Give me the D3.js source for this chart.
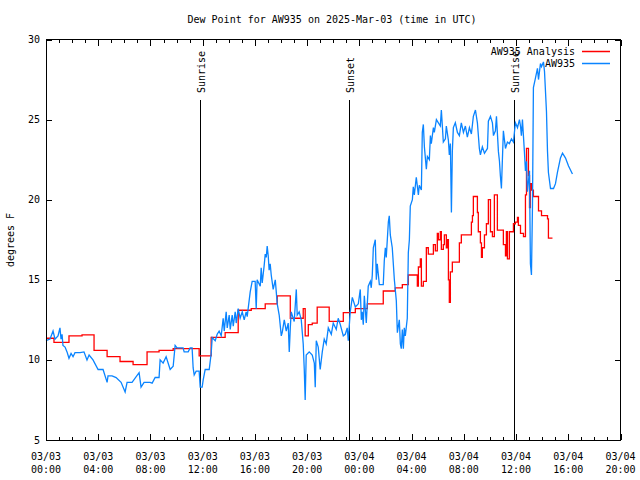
<!DOCTYPE html>
<html><head><meta charset="utf-8">
<script src="https://cdn.jsdelivr.net/npm/d3@7/dist/d3.min.js"></script>
<style>
body{margin:0;background:#fff;}
svg{display:block;}
text{font-family:"DejaVu Sans Mono","Liberation Mono",monospace;font-size:10px;fill:#000;}
</style></head>
<body>
<svg id="chart" width="640" height="480"></svg>
<script>
// ---- DATA (hours since 03/03 00:00 UTC, dew point in °F) ----
const titleText = "Dew Point for AW935 on 2025-Mar-03 (time in UTC)";
const yLabel = "degrees F";
const yTicks = [5, 10, 15, 20, 25, 30];
const xTickHours = [0, 4, 8, 12, 16, 20, 24, 28, 32, 36, 40, 44];
const xTickDates = ["03/03","03/03","03/03","03/03","03/03","03/03","03/04","03/04","03/04","03/04","03/04","03/04"];
const xTickTimes = ["00:00","04:00","08:00","12:00","16:00","20:00","00:00","04:00","08:00","12:00","16:00","20:00"];
const events = [["Sunrise", 11.80], ["Sunset", 23.17], ["Sunrise", 35.88]];

// AW935 observations [hour, value]
const obsSeries = [
[0,11.2],[0.31,11.3],[0.54,11.8],[0.69,11.3],[0.92,11.5],[1.07,12.0],[1.15,11.3],[1.23,11.6],[1.30,10.9],
[1.46,10.8],[1.61,10.5],[1.76,10.1],[1.92,10.4],[2.07,10.2],[2.22,10.45],[2.61,10.45],[2.91,10.5],[3.14,10.0],
[3.30,10.3],[3.60,10.0],[3.99,9.4],[4.37,9.4],[4.68,8.6],[4.75,9.0],[5.06,9.0],[5.37,8.9],[5.75,8.6],[6.06,8.0],
[6.21,8.6],[6.59,8.6],[7.13,9.2],[7.28,8.3],[7.51,8.6],[7.97,8.6],[8.13,8.55],[8.36,8.9],[8.66,8.9],[8.74,10.0],
[8.97,9.8],[9.20,10.2],[9.51,9.4],[9.74,9.6],[9.89,10.9],[10.04,10.75],[10.50,10.75],[10.58,10.5],[10.89,10.5],
[11.04,10.75],[11.19,10.75],[11.27,9.5],[11.35,9.06],[11.50,9.3],[11.73,9.3],[11.81,8.3],[11.96,8.3],[12.04,8.75],
[12.19,9.4],[12.50,9.4],[12.65,10.4],[12.73,11.4],[12.96,11.2],[13.11,11.6],[13.26,11.8],[13.42,11.5],[13.57,12.6],
[13.65,11.8],[13.80,13.0],[13.88,12.0],[14.03,12.8],[14.11,11.9],[14.26,12.8],[14.34,12.1],[14.49,13.0],[14.57,12.3],
[14.72,13.2],[14.87,12.6],[15.03,13.0],[15.18,12.5],[15.33,13.0],[15.41,12.7],[15.64,14.25],[15.79,14.9],[16.02,14.9],
[16.10,13.2],[16.17,15.0],[16.41,14.6],[16.48,15.75],[16.56,14.8],[16.71,15.9],[16.79,16.6],[16.87,16.4],[16.94,17.1],
[17.02,16.5],[17.09,15.6],[17.17,16.0],[17.25,15.3],[17.40,14.4],[17.56,15.0],[17.71,13.5],[17.86,12.8],[18.02,11.5],
[18.09,11.7],[18.25,12.5],[18.40,11.8],[18.55,12.3],[18.63,10.5],[18.71,12.0],[18.78,13.0],[19.01,12.4],[19.17,14.4],
[19.24,12.8],[19.39,13.0],[19.55,12.5],[19.70,11.0],[19.78,9.4],[19.85,7.5],[19.93,10.3],[20.16,10.5],[20.39,10.3],
[20.55,9.8],[20.62,8.3],[20.70,11.2],[20.85,10.8],[21.00,9.4],[21.16,10.5],[21.31,11.3],[21.46,11.0],[21.62,12.0],
[21.85,11.6],[22.00,12.3],[22.23,11.9],[22.38,12.6],[22.54,12.2],[22.77,11.5],[22.92,11.6],[23.07,12.0],[23.15,11.2],
[23.30,13.0],[23.46,13.9],[23.69,13.3],[23.92,13.5],[24.07,14.4],[24.15,12.5],[24.22,13.0],[24.30,12.2],[24.38,14.0],
[24.53,12.3],[24.68,14.6],[24.84,14.9],[24.91,14.5],[24.99,15.3],[25.07,17.0],[25.22,17.5],[25.30,15.0],[25.37,16.0],
[25.53,14.7],[25.83,14.7],[25.91,16.2],[25.99,17.0],[26.06,16.4],[26.22,18.6],[26.29,19.0],[26.37,17.8],[26.52,17.0],
[26.68,15.0],[26.83,13.7],[26.91,11.7],[27.06,12.5],[27.14,11.0],[27.21,10.7],[27.29,11.9],[27.37,10.7],[27.44,12.0],
[27.52,11.5],[27.67,12.6],[27.75,16.7],[27.83,17.5],[27.90,19.6],[28.06,20.0],[28.13,20.8],[28.21,20.3],[28.36,21.4],
[28.52,20.3],[28.59,20.9],[28.75,20.6],[28.82,24.2],[28.90,24.7],[28.98,23.3],[29.13,21.9],[29.21,22.7],[29.36,22.5],
[29.44,24.0],[29.51,23.5],[29.67,24.5],[29.74,24.2],[29.90,25.0],[30.20,24.6],[30.28,25.6],[30.43,23.6],[30.59,23.8],
[30.66,24.6],[30.82,23.7],[30.89,22.8],[30.97,23.5],[31.05,19.2],[31.12,23.0],[31.20,24.5],[31.35,24.8],[31.51,24.2],
[31.66,24.0],[31.81,24.8],[31.97,24.2],[32.12,24.6],[32.27,23.9],[32.43,24.5],[32.58,24.1],[32.73,25.2],[32.89,25.6],
[33.04,24.8],[33.19,23.2],[33.27,22.8],[33.42,23.3],[33.58,22.9],[33.81,23.2],[33.88,24.9],[34.04,25.2],[34.19,24.8],
[34.27,24.0],[34.42,24.3],[34.50,25.2],[34.65,23.0],[34.73,22.4],[34.80,21.5],[34.88,20.7],[35.03,24.3],[35.19,23.2],
[35.34,23.6],[35.49,23.5],[35.65,23.8],[35.80,23.6],[35.95,24.8],[36.11,24.5],[36.26,25.0],[36.34,24.6],[36.41,24.0],
[36.49,25.0],[36.64,23.0],[36.72,21.8],[36.80,22.4],[36.87,20.5],[37.03,21.8],[37.10,16.0],[37.18,15.3],[37.26,19.7],
[37.33,27.0],[37.49,27.6],[37.64,28.2],[37.72,27.5],[37.87,28.5],[37.95,28.3],[38.10,28.6],[38.18,28.0],[38.33,25.5],
[38.41,23.0],[38.48,21.7],[38.64,20.7],[38.87,20.7],[39.02,21.0],[39.17,21.7],[39.40,22.6],[39.56,22.9],[39.79,22.6],
[40.02,22.1],[40.32,21.6]
];

// AW935 Analysis [hour, value] (stepped)
const analysisSeries = [
[0,11.35],[0.61,11.1],[1.76,11.5],[2.76,11.56],[3.68,10.6],[4.68,10.2],[5.67,9.9],[6.67,9.7],[7.74,10.5],[8.66,10.6],
[9.74,10.7],[11.73,10.25],[12.65,11.4],[13.72,11.7],[14.72,13.1],[15.72,13.2],[16.79,13.5],[17.71,14.0],[18.71,12.6],
[19.70,13.2],[19.85,11.5],[20.09,12.2],[20.39,12.3],[20.77,13.3],[21.69,12.4],[22.77,12.95],[23.69,13.2],[24.61,13.5],
[25.83,14.3],[26.75,14.5],[27.29,14.7],[27.75,15.3],[28.44,14.6],[28.52,15.8],[28.67,16.3],[28.75,14.6],[28.90,14.9],
[29.13,17.0],[29.28,16.6],[29.67,17.2],[29.82,16.8],[29.97,17.9],[30.05,17.5],[30.20,18.0],[30.28,16.9],[30.43,17.2],
[30.51,17.8],[30.66,17.0],[30.74,17.5],[30.82,15.0],[30.89,13.6],[30.97,15.5],[31.12,16.1],[31.66,17.3],[31.81,17.8],
[32.58,18.6],[32.66,19.0],[32.73,20.2],[33.04,19.2],[33.11,18.0],[33.27,17.3],[33.35,16.4],[33.42,17.0],[33.58,17.8],
[33.73,18.5],[33.88,20.0],[34.04,18.0],[34.19,17.7],[34.34,20.3],[34.57,18.1],[35.03,17.2],[35.19,16.5],[35.26,18.0],
[35.34,16.3],[35.49,18.0],[35.80,18.5],[35.95,18.6],[36.11,18.9],[36.18,18.4],[36.34,17.9],[36.57,17.7],[36.72,20.3],
[36.80,23.2],[36.95,21.5],[37.03,19.5],[37.10,21.0],[37.18,20.6],[37.33,20.2],[37.72,19.3],[37.95,19.0],[38.41,18.8],
[38.48,17.6],[38.79,17.6]
];

const seriesNames = ["AW935 Analysis", "AW935"];
const seriesColors = ["#ff0000", "#0a84ff"];

// ---- DRAWING ----
const svg = d3.select("#chart");
const x = d3.scaleLinear().domain([0, 44]).range([46, 620.5]);
const y = d3.scaleLinear().domain([5, 30]).range([440, 39.5]);

svg.append("text").attr("x", 332).attr("y", 23).attr("text-anchor", "middle").text(titleText);

// axes ticks (inward)
const minorHours = d3.range(0, 45).filter(h => h % 4 !== 0);
const gB = svg.append("g").attr("transform", `translate(0,440)`);
gB.call(d3.axisBottom(x).tickValues(xTickHours).tickSize(-6).tickFormat(""));
gB.call(g => g.append("g").call(d3.axisBottom(x).tickValues(minorHours).tickSize(-3).tickFormat("")));
const gT = svg.append("g").attr("transform", `translate(0,39.5)`);
gT.call(d3.axisTop(x).tickValues(xTickHours).tickSize(-6).tickFormat(""));
gT.call(g => g.append("g").call(d3.axisTop(x).tickValues(minorHours).tickSize(-3).tickFormat("")));
const gL = svg.append("g").attr("transform", `translate(46,0)`);
gL.call(d3.axisLeft(y).tickValues(yTicks).tickSize(-6).tickFormat(""));
const gR = svg.append("g").attr("transform", `translate(620.5,0)`);
gR.call(d3.axisRight(y).tickValues(yTicks).tickSize(-6).tickFormat(""));
svg.selectAll(".domain").remove();
svg.selectAll(".tick line").attr("stroke", "#000").attr("shape-rendering", "crispEdges");

// tick labels
svg.append("g").selectAll("text").data(yTicks).join("text")
  .attr("x", 40).attr("y", d => y(d) + 3.5).attr("text-anchor", "end").text(d => d);
const xl = svg.append("g").selectAll("text").data(xTickHours).join("text")
  .attr("text-anchor", "middle");
xl.append("tspan").attr("x", d => x(d)).attr("y", 460).text((d, i) => xTickDates[i]);
xl.append("tspan").attr("x", d => x(d)).attr("y", 473).text((d, i) => xTickTimes[i]);

svg.append("text").attr("transform", "translate(14,240) rotate(-90)")
  .attr("text-anchor", "middle").text(yLabel);

// event lines
const ev = svg.append("g");
events.forEach(([lab, h]) => {
  const xx = Math.round(x(h)) + 0.5;
  ev.append("line").attr("x1", xx).attr("x2", xx).attr("y1", 100).attr("y2", 440)
    .attr("stroke", "#000").attr("stroke-width", 1).attr("shape-rendering", "crispEdges");
  ev.append("text").attr("transform", `translate(${xx + 4},93) rotate(-90)`)
    .attr("text-anchor", "start").text(lab);
});

// series
const lineStep = d3.line().x(d => x(d[0])).y(d => y(d[1])).curve(d3.curveStepAfter);
const lineLin = d3.line().x(d => x(d[0])).y(d => y(d[1]));
svg.append("path").datum(analysisSeries).attr("d", lineStep)
  .attr("fill", "none").attr("stroke", seriesColors[0]).attr("stroke-width", 1.3);
svg.append("path").datum(obsSeries).attr("d", lineLin)
  .attr("fill", "none").attr("stroke", seriesColors[1]).attr("stroke-width", 1.3);

// legend
const lg = svg.append("g");
seriesNames.forEach((n, i) => {
  const yy = 51 + i * 12;
  lg.append("text").attr("x", 575).attr("y", yy + 3.5).attr("text-anchor", "end").text(n);
  lg.append("rect").attr("x", 582).attr("y", yy - 0.25).attr("width", 28).attr("height", 1.5)
    .attr("fill", seriesColors[i]).attr("stroke", "none");
});

// border
svg.append("rect").attr("x", 46).attr("y", 39.5).attr("width", 574.5).attr("height", 400.5)
  .attr("fill", "none").attr("stroke", "#000").attr("stroke-width", 1).attr("shape-rendering", "crispEdges");
</script>
</body></html>
